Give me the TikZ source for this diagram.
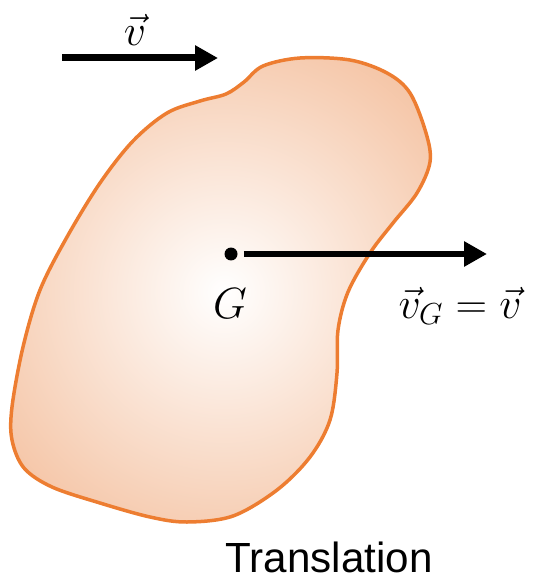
\documentclass[tikz,border=0pt]{standalone}
\usepackage{fontspec}
\newfontfamily\captionfont{Liberation Sans}
\usetikzlibrary{arrows.meta, positioning}
\definecolor{bodyline}{RGB}{237,125,49}
\definecolor{bodyfill}{RGB}{236,146,88}
\tikzset{
	mathlabel/.style={font=\fontsize{24}{26}\selectfont, inner sep=0pt}
}
\tikzset{
	captiontext/.style={font=\captionfont\fontsize{24}{26}\selectfont, inner sep=0pt}
}

\begin{document}
\begin{tikzpicture}[x=0.02cm, y=-0.02cm]
	\tikzset{
		vecarrow/.style={
				draw=black,
				line width=0.14cm,
				-{Triangle[length=0.46cm, width=0.48cm]}
			},
		dotnode/.style={
				shape=circle,
				fill=black,
				minimum size=0.26cm,
				inner sep=0pt
			}
	}
	\useasboundingbox (0,0) rectangle (536,580);

	% rigid body outline
	\def\bodyoutline{plot[smooth cycle, tension=0.55] coordinates {
		(263,66) (300,58) (350,60) (387,73) (410,93) (426,133) (430,162)
		(417,193) (393,223) (370,253) (348,292) (338,330) (337,373)
		(330,420) (310,457) (277,490) (233,516) (187,522) (150,517)
		(100,503) (52,487) (24,468) (12,440) (12,407) (23,347) (40,290)
		(67,237) (100,183) (133,141) (167,113) (200,101) (226,94) (244,82)}}
	\begin{scope}
		\clip \bodyoutline;
		\shade[inner color=white, outer color=bodyfill] (224,292) circle (10.4cm);
	\end{scope}
	\draw[bodyline, line width=0.07cm] \bodyoutline;

	% velocity of the body
	\coordinate (vtail) at (62,58);
	\coordinate (vtip) at (218,58);
	\draw[vecarrow] (vtail) -- (vtip);
	\node[mathlabel] (vlabel) at (135,30) {$\vec{v}$};

	% centre of mass
	\node[dotnode] (G) at (231,254) {};
	\coordinate (vGtip) at (487,254);
	\draw[vecarrow] ([xshift=0.12cm]G.east) -- (vGtip);
	\node[mathlabel] (Glabel) at (230,304) {$G$};
	\node[mathlabel] (vGlabel) at (460,306) {$\vec{v}_G = \vec{v}$};

	\node[captiontext] (caption) at (329,557) {Translation};
\end{tikzpicture}
\end{document}
